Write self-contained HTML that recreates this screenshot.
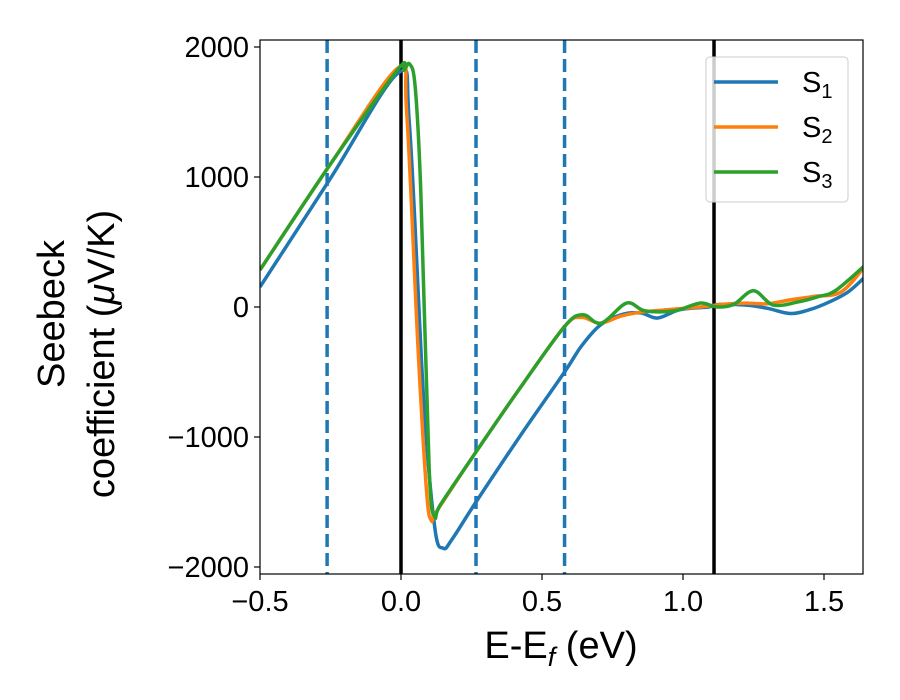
<!DOCTYPE html>
<html><head><meta charset="utf-8"><style>body{margin:0;background:#fff}svg{display:block;font-family:"Liberation Sans","DejaVu Sans",sans-serif}</style></head>
<body>
<svg id="chart" width="900" height="700" viewBox="0 0 900 700"></svg>
<script>
const xTicks=[-0.5,0.0,0.5,1.0,1.5];
const xTickLabels=["\u22120.5","0.0","0.5","1.0","1.5"];
const yTicks=[-2000,-1000,0,1000,2000];
const yTickLabels=["\u22122000","\u22121000","0","1000","2000"];
const solidLines=[0,1.11];
const dashedLines=[-0.262,0.266,0.58];
const s1x=[-0.5,-0.25,-0.01,0.03,0.08,0.12,0.15,0.18,0.266,0.42,0.58,0.64,0.706,0.78,0.85,0.91,0.99,1.09,1.13,1.22,1.3,1.38,1.45,1.52,1.585,1.64];
const s1y=[154,990,1800,1400,-700,-1700,-1855,-1790,-1500,-1000,-500,-300,-140,-60,-45,-85,-20,0,20,15,-10,-50,-20,40,115,220];
const s2x=[-0.5,-0.25,-0.01,0.02,0.06,0.09,0.107,0.13,0.266,0.42,0.58,0.64,0.706,0.78,0.85,0.95,1.06,1.14,1.22,1.3,1.38,1.46,1.56,1.64];
const s2y=[285,1100,1840,1500,-300,-1400,-1640,-1560,-1115,-630,-150,-80,-125,-70,-40,-20,0,20,30,25,55,80,115,300];
const s3x=[-0.5,-0.25,-0.01,0.01,0.03,0.05,0.07,0.1,0.12,0.14,0.266,0.42,0.58,0.645,0.71,0.8,0.865,0.97,1.06,1.12,1.18,1.25,1.32,1.41,1.48,1.54,1.64];
const s3y=[285,1100,1830,1820,1870,1700,900,-1250,-1610,-1520,-1115,-630,-150,-60,-125,30,-30,-30,30,0,20,125,15,40,80,125,310];
const X0=260,X1=863,Y0=40,Y1=574;
const xs=v=>401+v*282, ys=v=>307-v*0.13;
const svg=document.getElementById('chart');const NS='http://www.w3.org/2000/svg';
function mk(t,a,p){const e=document.createElementNS(NS,t);for(const k in a)e.setAttribute(k,a[k]);(p||svg).appendChild(e);return e;}
function path(xa,ya){const p=xa.map((x,i)=>[xs(x),ys(ya[i])]);let d='M'+p[0][0]+','+p[0][1];
for(let i=0;i<p.length-1;i++){const a=p[i-1]||p[i],b=p[i],c=p[i+1],e=p[i+2]||c;const t=6;
d+=` C${b[0]+(c[0]-a[0])/t},${b[1]+(c[1]-a[1])/t} ${c[0]-(e[0]-b[0])/t},${c[1]-(e[1]-b[1])/t} ${c[0]},${c[1]}`;}return d;}
const clip=mk('clipPath',{id:'cp'});mk('rect',{x:X0,y:Y0,width:X1-X0,height:Y1-Y0},clip);
const plot=mk('g',{'clip-path':'url(#cp)'});

solidLines.forEach(v=>{const l=mk('line',{x1:xs(v),x2:xs(v),y1:Y0,y2:Y1,stroke:'#000','stroke-width':3.5},plot);});
dashedLines.forEach(v=>{const l=mk('line',{x1:xs(v),x2:xs(v),y1:Y0,y2:Y1,stroke:'#1f77b4','stroke-width':3.5,'stroke-dasharray':'13,6'},plot);});
[[s1x,s1y,'#1f77b4','series-s1'],[s2x,s2y,'#ff7f0e','series-s2'],[s3x,s3y,'#2ca02c','series-s3']].forEach(s=>{const e=mk('path',{d:path(s[0],s[1]),fill:'none',stroke:s[2],'stroke-width':3.5},plot);});
const fr=mk('rect',{x:X0,y:Y0,width:X1-X0,height:Y1-Y0,fill:'none',stroke:'#000','stroke-width':1.2});

xTicks.forEach((v,i)=>{mk('line',{x1:xs(v),x2:xs(v),y1:Y1,y2:Y1+6,stroke:'#000','stroke-width':1.2});const t=mk('text',{x:xs(v),y:Y1+37,'text-anchor':'middle','font-size':29});t.textContent=xTickLabels[i];});
yTicks.forEach((v,i)=>{mk('line',{x1:X0-6,x2:X0,y1:ys(v),y2:ys(v),stroke:'#000','stroke-width':1.2});const t=mk('text',{x:X0-11,y:ys(v)+10,'text-anchor':'end','font-size':29});t.textContent=yTickLabels[i];});
</script>
<svg style="position:absolute;left:0;top:0" width="900" height="700">
<text x="561" y="658" text-anchor="middle" font-size="38" font-family="Liberation Sans, sans-serif">E-E<tspan font-style="italic" font-size="27" dy="8">f</tspan><tspan dy="-8"> (eV)</tspan></text>
<g font-size="38" font-family="Liberation Sans, sans-serif" text-anchor="middle">
<text transform="translate(64,314) rotate(-90)">Seebeck</text>
<text transform="translate(114,354) rotate(-90)">coefficient  (<tspan font-style="italic">μ</tspan>V/K)</text>
</g>
<g font-family="Liberation Sans, sans-serif" font-size="29">
<rect x="706" y="57" width="142" height="145" rx="4" fill="#fff" fill-opacity="0.8" stroke="#ccc"/>
<g><line x1="714" x2="778" y1="82" y2="82" stroke="#1f77b4" stroke-width="3.5"/><text x="802" y="92">S<tspan font-size="20" dy="6">1</tspan></text></g>
<g><line x1="714" x2="778" y1="127" y2="127" stroke="#ff7f0e" stroke-width="3.5"/><text x="802" y="137">S<tspan font-size="20" dy="6">2</tspan></text></g>
<g><line x1="714" x2="778" y1="172" y2="172" stroke="#2ca02c" stroke-width="3.5"/><text x="802" y="182">S<tspan font-size="20" dy="6">3</tspan></text></g>
</g>
</svg>
</body></html>
